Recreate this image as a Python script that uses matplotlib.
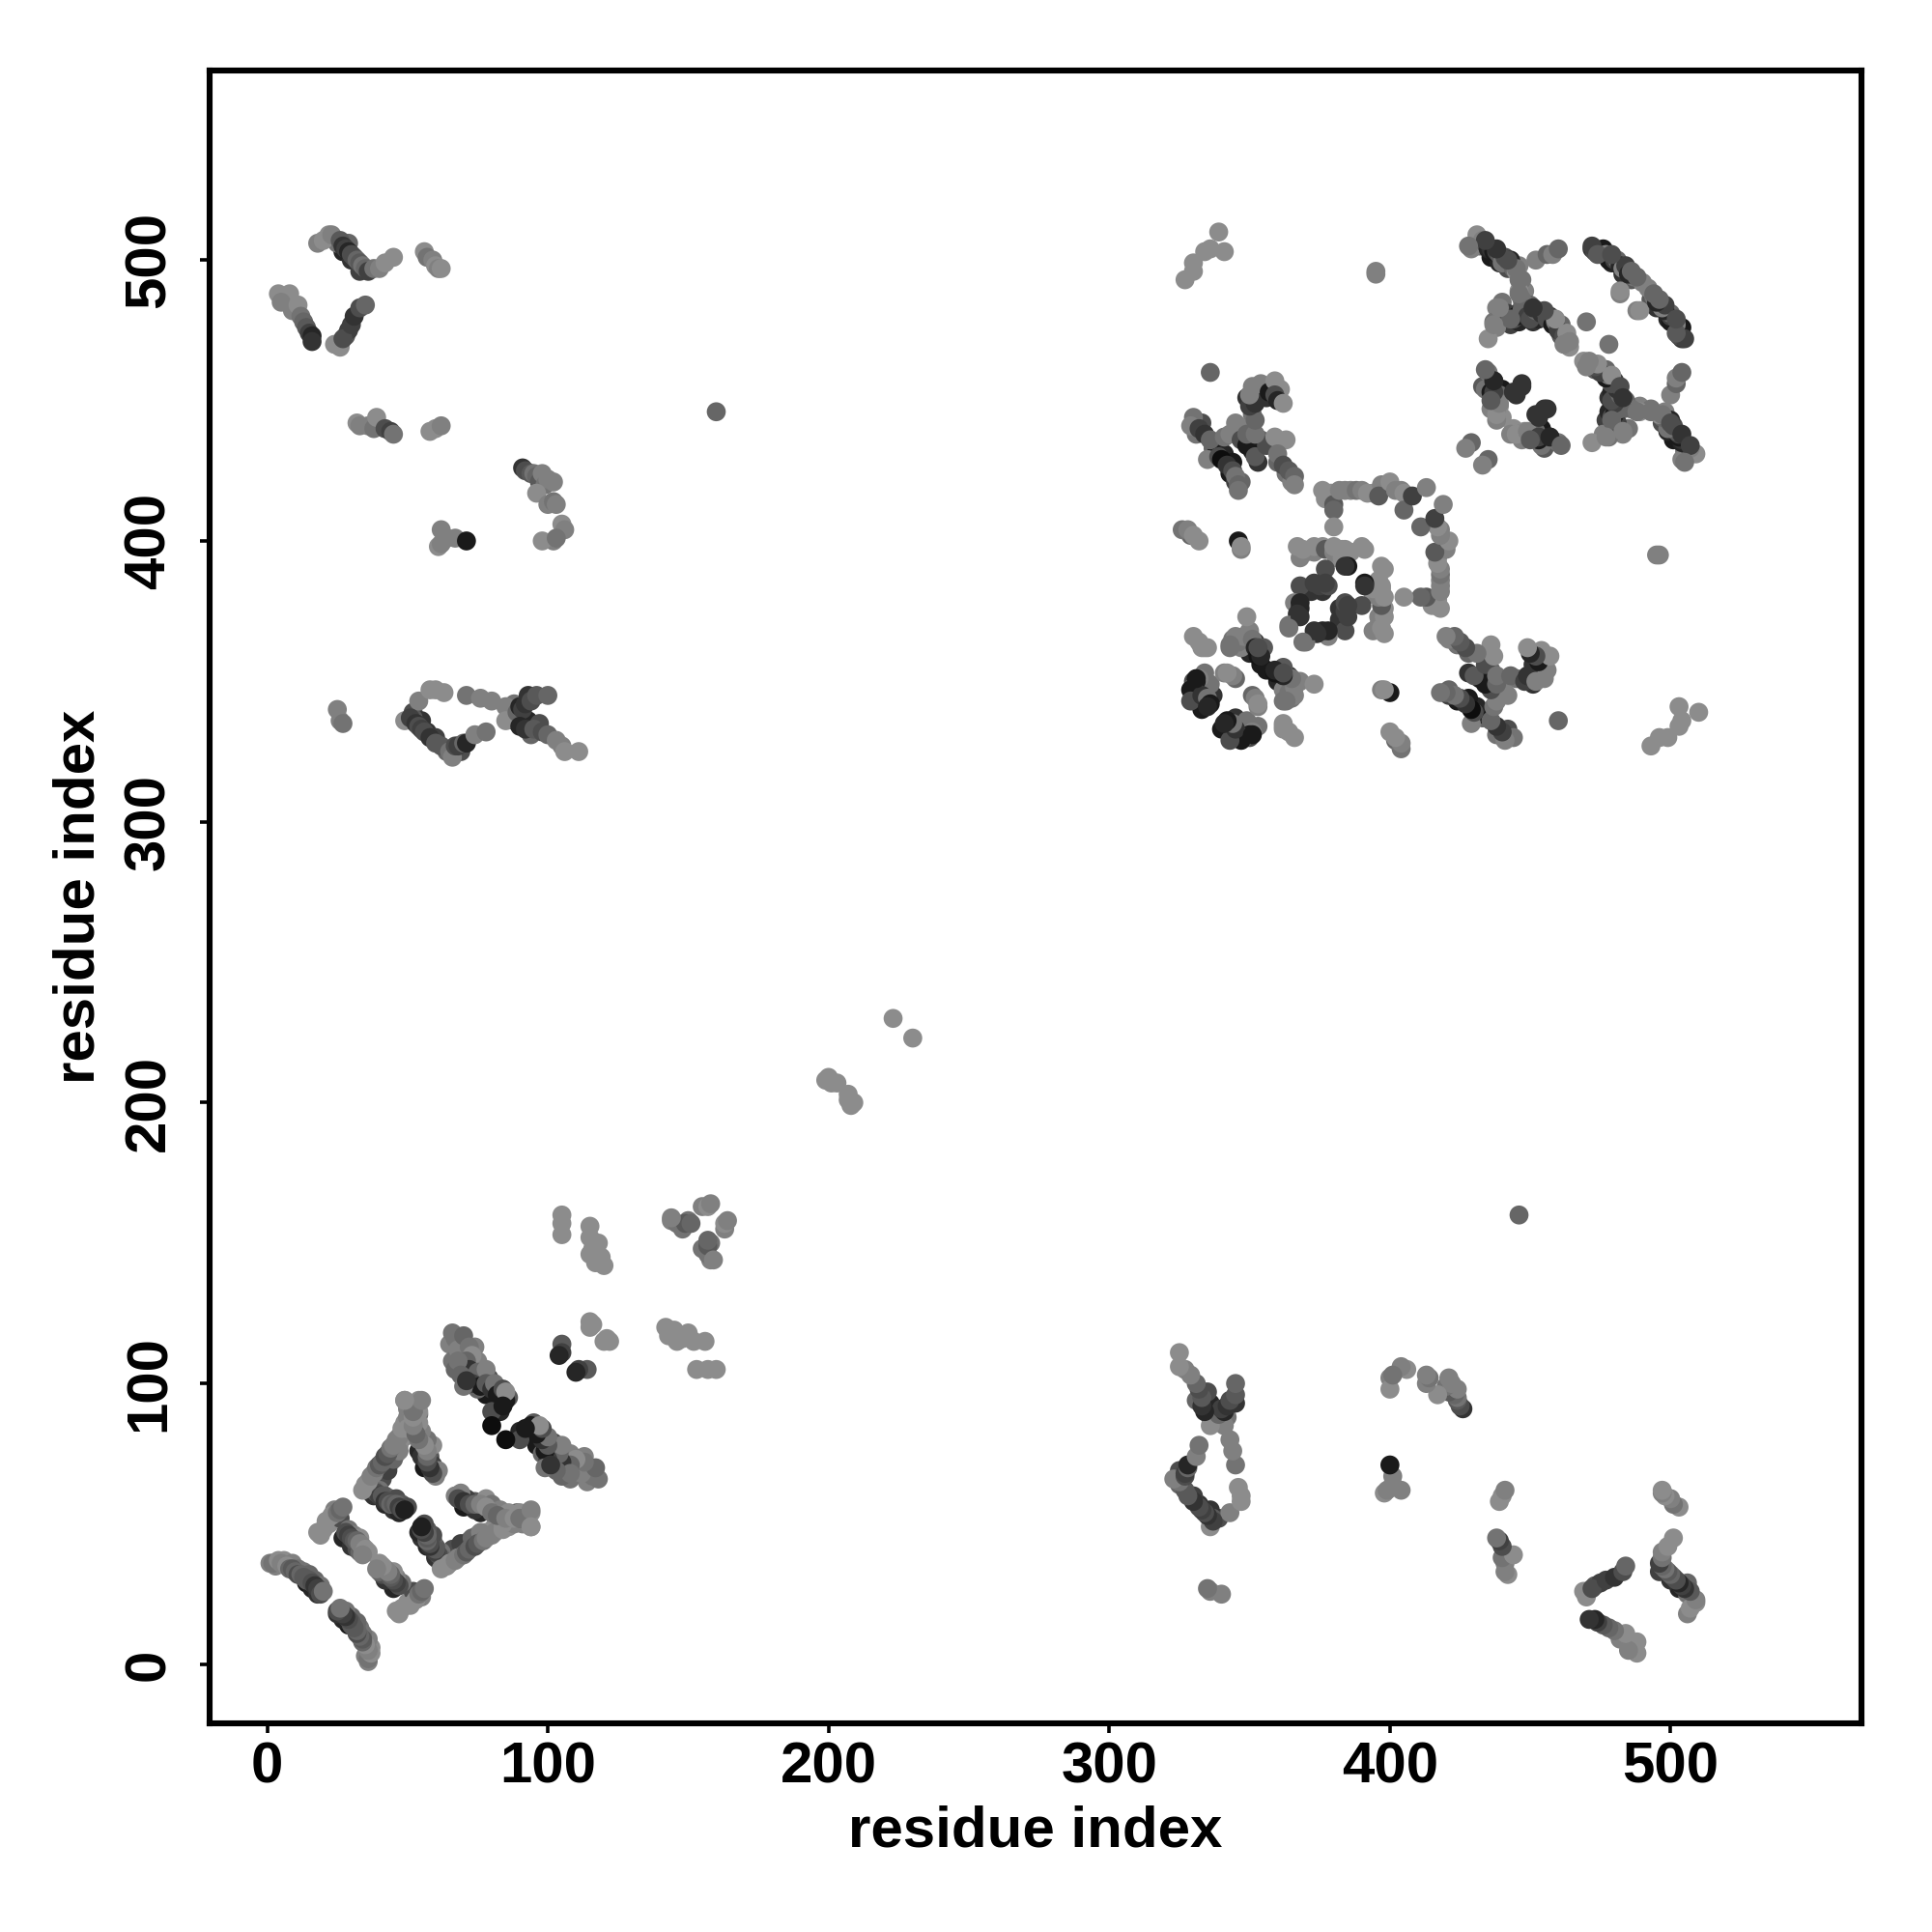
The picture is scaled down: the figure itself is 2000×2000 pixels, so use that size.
import matplotlib
matplotlib.use('Agg')
import matplotlib.pyplot as plt

# residue pairs, one side of the diagonal only (i < j)
# the other side is the same pairs swapped

# points on the edges of the thick bands, these go underneath
x1_i = [3, 6, 9, 11, 13, 15, 17, 19, 14, 16, 18, 20, 22, 24, 26, 29, 31, 33, 27, 30, 32, 33]
x1_j = [35, 37, 36, 34, 33, 32, 30, 28, 29, 27, 25, 48, 50, 55, 52, 48, 46, 45, 45, 42, 41, 40]
x1_g = [.5, .55, .5, .45, .45, .4, .4, .45, .1, .15, .2, .55, .55, .5, .3, .45, .5, .55, .15, .2, .3, .4]

x2_i = [36, 38, 40, 42, 44, 46, 47, 49, 51, 37, 41, 43, 45, 47, 52, 54, 51]
x2_j = [63, 65, 67, 70, 72, 75, 78, 81, 86, 61, 66, 69, 73, 76, 87, 89, 92]
x2_g = [.55, .55, .55, .5, .5, .5, .55, .55, .55, .5, .3, .25, .4, .5, .45, .4, .45]

x3_i = [40, 42, 44, 46, 48, 50, 38, 42, 45, 47, 58, 59, 61, 59, 57, 55, 54, 56, 54, 55, 54, 50]
x3_j = [62, 60, 59, 59, 57, 56, 60, 57, 55, 54, 74, 71, 69, 78, 80, 83, 86, 70, 76, 74, 90, 91]
x3_g = [.45, .35, .4, .3, .35, .3, .2, .15, .2, .15, .35, .25, .5, .55, .45, .5, .55, .1, .15, .2, .55, .5]

x4_i = [65, 69, 70, 74, 75, 74, 77, 79, 83, 86, 83, 78, 75, 70, 66, 69]
x4_j = [114, 115, 111, 113, 108, 103, 102, 102, 98, 95, 90, 96, 98, 106, 108, 110]
x4_g = [.5, .45, .4, .5, .5, .3, .15, .3, .2, .35, .15, .1, .4, .3, .45, .45]

x5_i = [333, 331, 337, 338, 341, 343, 345, 347, 344, 348, 350, 354, 351, 349, 353, 356, 361, 360, 363, 365, 345]
x5_j = [442, 438, 433, 431, 431, 424, 421, 421, 428, 439, 436, 436, 445, 451, 453, 451, 454, 428, 424, 421, 442]
x5_g = [.3, .45, .4, .1, .15, .1, .25, .4, .1, .2, .15, .4, .45, .2, .15, .2, .55, .4, .45, .5, .5]

x6_i = [432, 436, 439, 442, 446, 448, 450, 440, 441, 443, 446, 451, 453, 457, 461, 461, 464, 476, 479, 483, 486, 490, 436, 437, 436, 433, 440, 440]
x6_j = [505, 501, 499, 497, 498, 489, 484, 485, 479, 477, 478, 478, 479, 480, 477, 473, 469, 504, 499, 495, 493, 492, 456, 451, 447, 455, 454, 444]
x6_g = [.45, .1, .15, .3, .5, .5, .4, .45, .2, .25, .15, .2, .15, .2, .4, .35, .55, .1, .15, .2, .35, .5, .3, .15, .5, .35, .1, .55]

x7_i = [27, 30, 33, 29, 25, 331, 330, 333, 334, 337, 336, 350, 352, 347, 350, 355, 354]
x7_j = [503, 500, 496, 506, 506, 345, 350, 340, 347, 345, 349, 360, 364, 362, 368, 362, 356]
x7_g = [.15, .2, .25, .4, .45, .15, .3, .1, .15, .2, .45, .15, .2, .5, .5, .35, .1]

x8_i = [52, 55, 57, 60, 64, 69, 88, 93, 97, 94, 88, 93, 370, 373, 381, 386, 372, 376]
x8_j = [339, 336, 332, 330, 325, 325, 336, 336, 335, 331, 342, 345, 396, 396, 394, 396, 382, 382]
x8_g = [.3, .2, .2, .25, .4, .3, .25, .15, .3, .4, .45, .2, .5, .5, .55, .55, .2, .2]

a_i = [1, 2, 4, 5, 7, 8, 9, 10, 11, 12, 13, 14, 15, 16, 17, 18, 19, 20]
a_j = [36, 36, 37, 36, 35, 34, 34, 33, 32, 32, 31, 30, 30, 29, 28, 27, 25, 26]
a_g = [.5, .45, .55, .5, .55, .4, .35, .4, .3, .4, .35, .35, .35, .3, .2, .25, .3, .45]

b_i = [18, 19, 21, 23, 25, 26, 27, 28, 29, 30, 31, 32, 33, 34, 35, 36, 34]
b_j = [47, 46, 51, 53, 54, 55, 56, 47, 46, 45, 44, 44, 43, 42, 41, 40, 39]
b_g = [.55, .55, .55, .55, .45, .4, .45, .3, .25, .3, .35, .4, .5, .5, .55, .55, .5]

c_i = [34, 35, 36, 37, 38, 39, 40, 41, 42, 43, 44, 45, 46, 47, 48, 49, 50, 49, 52, 54, 50]
c_j = [62, 64, 65, 67, 68, 70, 71, 72, 74, 75, 77, 78, 80, 81, 84, 86, 88, 94, 90, 94, 84]
c_g = [.55, .55, .55, .5, .5, .45, .35, .4, .3, .35, .45, .5, .5, .5, .55, .55, .5, .55, .4, .55, .55]

d_i = [38, 39, 40, 41, 42, 43, 44, 45, 46, 47, 48, 49]
d_j = [62, 61, 60, 60, 58, 58, 57, 57, 57, 56, 55, 55]
d_g = [.4, .3, .25, .35, .2, .3, .4, .35, .4, .25, .3, .12]

e_i = [60, 59, 58, 57, 57, 57, 56, 54, 53, 52, 52, 52, 55, 49]
e_j = [67, 68, 70, 72, 74, 76, 78, 80, 82, 85, 88, 90, 94, 94]
e_g = [.5, .3, .2, .3, .4, .5, .55, .45, .4, .5, .55, .45, .5, .55]

f_i = [66, 67, 68, 70, 72, 73, 67, 71, 72, 75, 73, 78, 76, 78, 80, 81, 82, 84, 85, 85, 80, 80, 84, 68, 69, 70, 71]
f_j = [118, 116, 112, 117, 113, 110, 105, 108, 105, 104, 100, 105, 99, 100, 98, 100, 96, 98, 94, 97, 90, 85, 92, 108, 103, 99, 101]
f_g = [.45, .45, .5, .4, .45, .55, .4, .4, .2, .4, .25, .5, .1, .35, .2, .45, .1, .3, .1, .55, .3, .05, .1, .45, .4, .45, .2]

h_i = [105, 105, 105, 115, 115, 115, 116, 118, 119, 120, 117, 115, 116, 115, 105, 105, 104]
h_j = [160, 157, 153, 156, 152, 146, 148, 150, 145, 142, 143, 122, 121, 120, 114, 111, 110]
h_g = [.55, .55, .55, .55, .55, .55, .55, .55, .55, .55, .55, .55, .55, .55, .35, .25, .15]

k_i = [144, 146, 148, 150, 149, 151, 155, 157, 158, 144, 199, 200, 201, 203, 223, 160]
k_j = [158, 157, 155, 158, 157, 157, 163, 163, 164, 159, 208, 209, 207, 207, 230, 446]
k_g = [.5, .45, .45, .45, .35, .4, .5, .55, .5, .5, .55, .55, .55, .55, .55, .4]

ul1_i = [4, 8, 5, 9, 11, 12, 13, 14, 15, 16, 16]
ul1_j = [488, 488, 485, 482, 484, 480, 478, 476, 474, 473, 471]
ul1_g = [.55, .55, .5, .5, .55, .45, .4, .35, .25, .15, .2]

ul2_i = [24, 26, 28, 29, 27, 30, 31, 33, 35]
ul2_j = [470, 469, 473, 475, 472, 477, 480, 483, 484]
ul2_g = [.55, .55, .35, .25, .3, .25, .2, .3, .4]

ul3_i = [18, 20, 22, 23, 26, 27, 28, 29, 30, 31, 32, 33, 34, 35, 36, 38, 40, 42, 45]
ul3_j = [506, 507, 509, 509, 507, 505, 504, 503, 502, 501, 500, 499, 498, 497, 496, 497, 497, 499, 501]
ul3_g = [.5, .55, .55, .5, .35, .2, .25, .15, .3, .3, .4, .35, .45, .4, .25, .45, .5, .55, .55]

ul4_i = [56, 57, 59, 60, 61, 62]
ul4_j = [503, 501, 500, 498, 497, 497]
ul4_g = [.55, .45, .5, .55, .5, .55]

ul5_i = [32, 33, 36, 38, 39, 42, 44, 45, 58, 60, 62]
ul5_j = [442, 441, 441, 440, 444, 440, 439, 438, 439, 440, 441]
ul5_g = [.55, .5, .5, .45, .55, .3, .25, .45, .55, .55, .5]

ul6_i = [91, 92, 94, 95, 96, 97, 98, 99, 100, 102, 96, 100, 102, 103, 105, 106, 102, 98, 103]
ul6_j = [426, 425, 424, 424, 423, 421, 424, 420, 422, 421, 417, 413, 414, 413, 406, 404, 400, 400, 401]
ul6_g = [.2, .3, .35, .45, .4, .35, .5, .45, .5, .5, .55, .5, .45, .5, .55, .5, .5, .55, .45]

ul7_i = [61, 62, 62, 64, 67, 71, 25, 26, 27]
ul7_j = [398, 399, 404, 401, 401, 400, 340, 336, 335]
ul7_g = [.55, .5, .5, .5, .5, .1, .5, .5, .45]

ul9_i = [49, 52, 54, 58, 60, 63, 51, 53, 54, 55, 56, 58, 60, 62, 65, 66, 67, 68, 70, 71, 74, 78]
ul9_j = [336, 337, 343, 347, 347, 346, 337, 335, 334, 333, 332, 330, 328, 327, 325, 323, 327, 327, 328, 328, 331, 332]
ul9_g = [.55, .35, .5, .55, .55, .55, .25, .2, .3, .25, .3, .2, .35, .35, .45, .5, .3, .25, .4, .15, .5, .45]

ul10_i = [71, 76, 80, 85, 85, 89, 90, 91, 92, 94, 96, 100, 90, 92, 95, 98, 100, 103, 105, 106, 111]
ul10_j = [345, 344, 343, 341, 336, 339, 341, 340, 342, 343, 345, 345, 334, 333, 333, 332, 331, 329, 327, 325, 325]
ul10_g = [.45, .5, .5, .5, .55, .4, .15, .25, .2, .3, .35, .4, .15, .2, .35, .3, .4, .5, .5, .55, .55]

ur1_i = [327, 330, 330, 334, 336, 339, 341, 395, 395, 336]
ur1_j = [493, 496, 499, 503, 504, 510, 503, 495, 496, 460]
ur1_g = [.55, .55, .55, .55, .55, .55, .55, .5, .5, .4]

ur4_i = [330, 329, 332, 334, 336, 335, 339, 340, 342, 344, 345, 346, 346]
ur4_j = [444, 441, 440, 438, 436, 429, 430, 429, 427, 425, 423, 420, 418]
ur4_g = [.45, .5, .25, .2, .4, .5, .3, .05, .2, .3, .45, .4, .45]

ur5_i = [341, 343, 346, 347, 349, 351, 353, 352, 356, 349, 352, 352, 350, 352, 350, 351, 354, 357, 359, 359, 360, 362, 359, 363, 360, 362, 364, 366, 366]
ur5_j = [437, 438, 441, 436, 434, 432, 428, 430, 434, 438, 438, 443, 448, 449, 452, 455, 456, 453, 457, 452, 450, 449, 437, 436, 431, 427, 425, 423, 420]
ur5_g = [.45, .5, .5, .3, .1, .1, .2, .35, .3, .4, .45, .4, .25, .2, .5, .5, .5, .1, .55, .3, .15, .55, .55, .55, .45, .3, .35, .4, .5]

ur6_i = [329, 326, 328, 330, 332, 346, 347, 347]
ur6_j = [402, 404, 404, 402, 400, 400, 397, 398]
ur6_g = [.4, .45, .5, .55, .55, .1, .5, .55]

ring_i = [376, 377, 379, 380, 380, 380, 382, 384, 386, 388, 390, 392, 394, 397, 396, 400, 402, 404, 405, 405, 408, 413]
ring_j = [418, 415, 417, 413, 411, 405, 418, 418, 418, 418, 418, 417, 417, 420, 416, 421, 418, 418, 417, 411, 416, 419]
ring_g = [.55, .55, .55, .35, .4, .55, .5, .5, .5, .45, .5, .55, .55, .5, .35, .55, .5, .5, .55, .4, .25, .5]

inner_i = [368, 367, 369, 373, 376, 377, 380, 380, 383, 383, 384, 391, 390, 377, 385, 384, 368, 375, 378, 377, 373, 366, 368, 368, 367, 364, 368, 364]
inner_j = [394, 398, 397, 398, 398, 397, 396, 398, 397, 394, 397, 397, 398, 390, 391, 391, 384, 384, 384, 385, 385, 378, 376, 378, 374, 370, 373, 369]
inner_g = [.5, .55, .55, .55, .55, .35, .5, .55, .55, .55, .55, .55, .55, .3, .1, .2, .3, .25, .3, .25, .25, .5, .15, .15, .2, .45, .2, .45]

low_i = [330, 332, 334, 333, 335, 344, 343, 346, 348, 349, 345, 343, 351, 352, 353, 353, 354, 353, 334, 332, 331, 341, 345, 330, 329, 329, 333, 331, 335, 336, 335, 344, 342]
low_j = [366, 364, 362, 362, 362, 365, 362, 364, 366, 373, 366, 363, 365, 362, 360, 359, 359, 362, 353, 351, 350, 353, 351, 348, 347, 343, 345, 351, 344, 342, 341, 352, 353]
low_g = [.55, .55, .55, .55, .55, .45, .45, .45, .5, .55, .5, .45, .45, .15, .08, .08, .15, .3, .45, .5, .1, .5, .4, .45, .1, .3, .2, .1, .45, .1, .15, .5, .55]

tr1_i = [429, 431, 433, 434, 435, 436, 437, 438, 439, 440, 441, 443, 444, 445, 447, 446, 447, 447]
tr1_j = [504, 509, 507, 506, 504, 504, 503, 503, 502, 499, 501, 500, 497, 496, 493, 489, 486, 483]
tr1_g = [.5, .55, .5, .35, .15, .2, .1, .25, .35, .45, .3, .15, .4, .55, .45, .55, .45, .4]

tr2_i = [452, 456, 458, 460, 470, 482, 482, 487]
tr2_j = [500, 502, 502, 504, 478, 488, 489, 494]
tr2_g = [.5, .4, .5, .4, .45, .5, .55, .45]

tr3_i = [438, 437, 438, 435, 442, 444, 445, 447, 449, 450, 452, 454, 456, 458, 459, 460, 462, 463, 464, 462, 459, 455, 451]
tr3_j = [483, 478, 476, 472, 481, 479, 480, 482, 480, 479, 482, 481, 479, 477, 478, 475, 473, 474, 471, 470, 479, 482, 483]
tr3_g = [.5, .45, .5, .55, .25, .3, .1, .4, .25, .3, .4, .2, .3, .1, .45, .25, .3, .55, .5, .5, .55, .3, .2]

tr4_i = [472, 473, 475, 477, 478, 480, 481, 482, 483, 484, 485, 486, 488, 472, 474, 479]
tr4_j = [504, 503, 503, 502, 500, 500, 500, 498, 497, 498, 495, 496, 494, 505, 502, 502]
tr4_g = [.2, .3, .1, .5, .1, .25, .4, .15, .5, .25, .15, .4, .4, .25, .35, .3]

tr5_i = [435, 437, 434, 436, 439, 439, 438, 438, 445, 447, 429, 427, 438, 439, 437, 437, 434, 444, 447, 436]
tr5_j = [460, 457, 454, 453, 452, 448, 446, 443, 452, 455, 435, 433, 445, 449, 453, 457, 461, 453, 456, 450]
tr5_g = [.45, .15, .45, .1, .4, .55, .5, .5, .2, .2, .4, .5, .55, .5, .25, .15, .4, .2, .2, .35]

tr6_i = [443, 446, 446, 445, 442, 438, 434, 428, 439, 437]
tr6_j = [479, 488, 493, 497, 500, 504, 507, 505, 483, 477]
tr6_g = [.4, .45, .45, .45, .3, .2, .25, .45, .5, .5]

groups = [
    (x1_i, x1_j, x1_g), (x2_i, x2_j, x2_g), (x3_i, x3_j, x3_g), (x4_i, x4_j, x4_g),
    (x5_i, x5_j, x5_g), (x6_i, x6_j, x6_g), (x7_i, x7_j, x7_g), (x8_i, x8_j, x8_g),
    (ul1_i, ul1_j, ul1_g), (ul2_i, ul2_j, ul2_g), (ul3_i, ul3_j, ul3_g),
    (ul4_i, ul4_j, ul4_g), (ul5_i, ul5_j, ul5_g), (ul6_i, ul6_j, ul6_g),
    (ul7_i, ul7_j, ul7_g), (ul9_i, ul9_j, ul9_g), (ul10_i, ul10_j, ul10_g),
    (a_i, a_j, a_g), (b_i, b_j, b_g), (d_i, d_j, d_g), (c_i, c_j, c_g),
    (e_i, e_j, e_g), (f_i, f_j, f_g), (h_i, h_j, h_g), (k_i, k_j, k_g),
    (ur1_i, ur1_j, ur1_g), (ur4_i, ur4_j, ur4_g), (ur5_i, ur5_j, ur5_g),
    (ur6_i, ur6_j, ur6_g), (ring_i, ring_j, ring_g), (inner_i, inner_j, inner_g),
    (low_i, low_j, low_g), (tr1_i, tr1_j, tr1_g), (tr2_i, tr2_j, tr2_g),
    (tr3_i, tr3_j, tr3_g), (tr4_i, tr4_j, tr4_g), (tr6_i, tr6_j, tr6_g),
    (tr5_i, tr5_j, tr5_g),
]

ticks = [0, 100, 200, 300, 400, 500]

plt.rcParams['font.family'] = ['Liberation Sans', 'DejaVu Sans']
plt.rcParams['font.weight'] = 'bold'

fig = plt.figure(figsize=(10, 10), dpi=200)
ax = fig.add_axes([217 / 2000, 1 - 1784 / 2000, 1710 / 2000, 1711 / 2000])

for ii, jj, gg in groups:
    cols = [str(v) for v in gg]
    ax.scatter(ii, jj, s=50, c=cols, linewidths=0)
    ax.scatter(jj, ii, s=50, c=cols, linewidths=0)

ax.set_xlim(-20.5, 568)
ax.set_ylim(-21, 567.5)
ax.set_xticks(ticks)
ax.set_yticks(ticks)
ax.tick_params(length=3.5, width=1.3, labelsize=21.6)
ax.tick_params(axis='x', pad=3)
ax.tick_params(axis='y', pad=9)
for lab in ax.get_yticklabels():
    lab.set_rotation(90)
    lab.set_va('center')
ax.set_xlabel('residue index', fontsize=21.6, fontweight='bold', labelpad=4)
ax.set_ylabel('residue index', fontsize=21.6, fontweight='bold', labelpad=6.5)
for sp in ax.spines.values():
    sp.set_linewidth(2.2)

plt.savefig('out.png', dpi=200)
